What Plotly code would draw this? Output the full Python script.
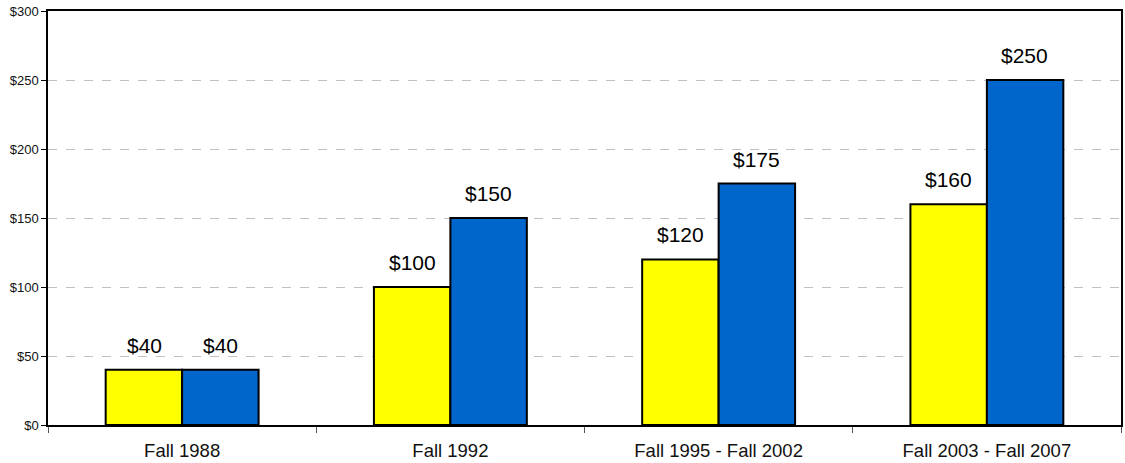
import plotly.graph_objects as go

categories = ['Fall 1988', 'Fall 1992', 'Fall 1995 - Fall 2002', 'Fall 2003 - Fall 2007']
series_a = [40, 100, 120, 160]
series_b = [40, 150, 175, 250]

fig = go.Figure()
fig.add_trace(go.Bar(
    x=categories, y=series_a, marker={'color': '#FFFF00', 'line': {'color': 'black', 'width': 2}},
    showlegend=False
))
fig.add_trace(go.Bar(
    x=categories, y=series_b, marker={'color': '#0066CC', 'line': {'color': 'black', 'width': 2}},
    showlegend=False
))

# value labels above the bars
for vals, shift in [(series_a, -38), (series_b, 38)]:
    for c, v in zip(categories, vals):
        fig.add_annotation(
            x=c, y=v, xref='x', yref='y', text='$%d' % v, showarrow=False,
            xshift=shift, yshift=11, yanchor='bottom', font={'size': 21, 'color': 'black'}
        )

fig.update_layout(
    width=1125, height=463,
    margin={'l': 48, 'r': 2, 't': 11, 'b': 38},
    barmode='group', bargap=0.43, bargroupgap=0,
    plot_bgcolor='white', paper_bgcolor='white',
    font={'family': 'Liberation Sans, Arial, sans-serif', 'color': 'black'},
)
fig.update_xaxes(
    showline=True, linecolor='black', linewidth=1.5, mirror=True,
    ticks='outside', tickson='boundaries', ticklen=6, tickcolor='#555555',
    tickfont={'size': 18.5, 'color': '#111111'}, ticklabelstandoff=8, showgrid=False
)
fig.update_yaxes(
    range=[0, 300], dtick=50, tickprefix='$',
    showline=True, linecolor='black', linewidth=1.5, mirror=True,
    ticks='outside', ticklen=5, tickcolor='black',
    tickfont={'size': 13, 'color': '#111111'}, showgrid=True, gridcolor='#C0C0C0', griddash='dash',
    gridwidth=1, zeroline=False
)

fig.write_html('out.html', config={'displayModeBar': False},
               post_script="document.body.style.margin='0';")
